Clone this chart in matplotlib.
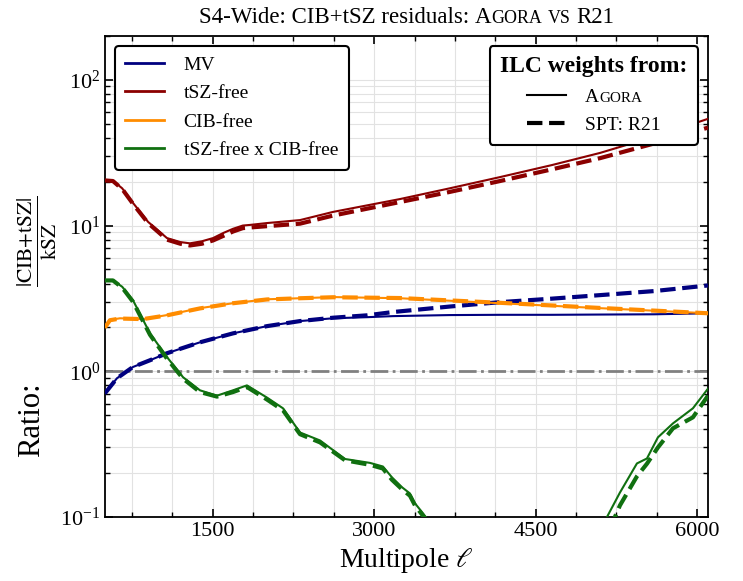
import matplotlib
matplotlib.use("Agg")
import numpy as np
import matplotlib.pyplot as plt
from matplotlib.ticker import MultipleLocator, AutoMinorLocator
from matplotlib.offsetbox import TextArea, HPacker, AnchoredOffsetbox
from matplotlib.lines import Line2D

plt.rcParams['font.family'] = 'serif'
plt.rcParams['font.serif'] = ['Liberation Serif', 'DejaVu Serif']
plt.rcParams['mathtext.fontset'] = 'stix'
plt.rcParams['axes.linewidth'] = 1.3

# ---- data (ratio |CIB+tSZ| / kSZ) ----
ell_mv = [500, 611, 760, 918, 1076, 1382, 1689, 2004, 2311, 2617, 2933, 3175,
          3700, 4168, 4650, 5097, 5600, 6100]
mv_agora = [0.706, 0.895, 1.07, 1.19, 1.33, 1.58, 1.82, 2.04, 2.21, 2.31, 2.35, 2.39,
            2.43, 2.44, 2.44, 2.45, 2.46, 2.5]
mv_r21 = [0.706, 0.895, 1.07, 1.19, 1.33, 1.58, 1.82, 2.04, 2.21, 2.33, 2.42, 2.55,
          2.78, 2.98, 3.15, 3.33, 3.55, 3.88]

ell_tsz = [500, 574, 660, 760, 900, 1076, 1200, 1289, 1400, 1503, 1600, 1689,
           1780, 1847, 2004, 2311, 2617, 3240, 3700, 4168, 4650, 5097, 5654, 6100]
tsz_agora = [20.5, 20.3, 18.0, 14.3, 10.6, 8.2, 7.7, 7.55, 7.8, 8.2, 8.9, 9.5,
             10.0, 10.1, 10.4, 10.9, 12.4, 15.2, 18.0, 21.5, 26.0, 31.5, 41.9, 54.0]
tsz_r21 = [20.4, 20.2, 17.8, 14.1, 10.4, 8.0, 7.5, 7.3, 7.5, 7.9, 8.5, 9.1,
           9.6, 9.7, 9.9, 10.3, 11.7, 14.5, 17.0, 20.2, 24.3, 29.0, 37.5, 47.0]

ell_cib = [500, 546, 639, 853, 1076, 1382, 1689, 2004, 2311, 2617, 3240, 4168, 5097, 6100]
cib_agora = [2.0, 2.25, 2.31, 2.28, 2.43, 2.71, 2.93, 3.12, 3.17, 3.23, 3.17, 2.93, 2.71, 2.5]
cib_r21 = [2.0, 2.24, 2.30, 2.28, 2.42, 2.70, 2.93, 3.11, 3.17, 3.22, 3.18, 2.95, 2.72, 2.5]

ell_both = [500, 574, 660, 760, 918, 1076, 1225, 1382, 1540, 1689, 1818, 2004,
            2153, 2311, 2497, 2729, 2961, 3081, 3165, 3258, 3332, 3379, 3453, 3550,
            4300,
            5120, 5162, 5282, 5440, 5533, 5635, 5775, 5960, 6100]
both_agora = [4.2, 4.2, 3.8, 3.07, 1.82, 1.25, 0.91, 0.74, 0.68, 0.74, 0.80, 0.66,
              0.557, 0.38, 0.335, 0.25, 0.235, 0.222, 0.187, 0.16, 0.145, 0.124, 0.106, 0.085,
              np.nan,
              0.085, 0.1, 0.147, 0.233, 0.252, 0.352, 0.439, 0.557, 0.76]
both_r21 = [4.2, 4.2, 3.75, 3.0, 1.78, 1.22, 0.89, 0.72, 0.67, 0.72, 0.78, 0.64,
            0.54, 0.37, 0.325, 0.245, 0.228, 0.215, 0.18, 0.155, 0.14, 0.12, 0.102, 0.082,
            np.nan,
            0.06, 0.075, 0.12, 0.19, 0.232, 0.30, 0.406, 0.483, 0.68]

series = [
    ('MV', '#00007f', ell_mv, mv_agora, mv_r21),
    ('tSZ-free', '#8b0000', ell_tsz, tsz_agora, tsz_r21),
    ('CIB-free', '#ff8c00', ell_cib, cib_agora, cib_r21),
    ('tSZ-free x CIB-free', '#107010', ell_both, both_agora, both_r21),
]

fig = plt.figure(figsize=(7.43, 5.81), dpi=100)
ax = fig.add_axes([0.1413, 0.1102, 0.8116, 0.8279])

for name, col, ell, a, r in series:
    ax.plot(ell, a, color=col, lw=1.5, zorder=3)
    ax.plot(ell, r, color=col, lw=3, ls='--', zorder=3)

ax.axhline(1.0, color='gray', lw=2, ls='-.', zorder=2)

ax.set_yscale('log')
ax.set_xlim(500, 6100)
ax.set_ylim(0.1, 200)
ax.xaxis.set_major_locator(MultipleLocator(1500))
ax.xaxis.set_minor_locator(AutoMinorLocator(4))
ax.grid(True, which='both', color='#e2e2e2', lw=0.8, zorder=0)
ax.set_axisbelow(True)
ax.tick_params(which='both', direction='in', top=True, right=True, labelsize=16)
ax.tick_params(which='major', length=6, width=1.2)
ax.tick_params(which='minor', length=3.5, width=1.0)

ax.set_xlabel(r'Multipole $\ell$', fontsize=20)
# y label in two pieces, placed like the reference
fig.text(32 / 743, 1 - 420 / 581, 'Ratio:', rotation=90, fontsize=22,
         ha='center', va='center')
fig.text(38 / 743, 1 - 241 / 581, r'$\frac{|\mathrm{CIB{+}tSZ}|}{\mathrm{kSZ}}$',
         rotation=90, fontsize=22, ha='center', va='center')

# colour legend
col_handles = [Line2D([], [], color=c, lw=2) for _, c, _, _, _ in series]
leg1 = ax.legend(col_handles, [s[0] for s in series], loc='upper left', fontsize=14,
                 framealpha=1, edgecolor='k', fancybox=True, handletextpad=1.0,
                 labelspacing=0.55, borderpad=0.55)
leg1.get_frame().set_linewidth(1.5)
ax.add_artist(leg1)

# line-style legend
sty_handles = [Line2D([], [], color='k', lw=1.5), Line2D([], [], color='k', lw=3, ls='--')]
leg2 = ax.legend(sty_handles, ['Agora', 'SPT: R21'], loc='upper right', fontsize=14,
                 framealpha=1, edgecolor='k', fancybox=True, handletextpad=1.0,
                 labelspacing=0.55, borderpad=0.55,
                 title='ILC weights from:',
                 title_fontproperties={'weight': 'bold', 'size': 17})
leg2.get_frame().set_linewidth(1.5)


def small_caps(first, rest, size, ratio=0.78):
    return HPacker(children=[TextArea(first, textprops=dict(size=size)),
                             TextArea(rest, textprops=dict(size=size * ratio))],
                   sep=0, pad=0, align='baseline')


# fake small caps for "Agora" in the legend
agora_box = small_caps('A', 'GORA', 14)
agora_box.set_figure(fig)
item = leg2._legend_handle_box.get_children()[0].get_children()[0]
item.get_children()[1] = agora_box

# title with small caps
ts = 16.5
title_box = HPacker(children=[TextArea('S4-Wide: CIB+tSZ residuals:', textprops=dict(size=ts)),
                              small_caps('A', 'GORA', ts),
                              TextArea('VS', textprops=dict(size=ts * 0.78)),
                              TextArea('R21', textprops=dict(size=ts))],
                    sep=ts * 0.25, pad=0, align='baseline')
anch = AnchoredOffsetbox(loc='lower center', child=title_box, pad=0, borderpad=0.6,
                         frameon=False, bbox_to_anchor=(0.5, 1.0),
                         bbox_transform=ax.transAxes)
ax.add_artist(anch)

fig.savefig('out.png', dpi=100)
